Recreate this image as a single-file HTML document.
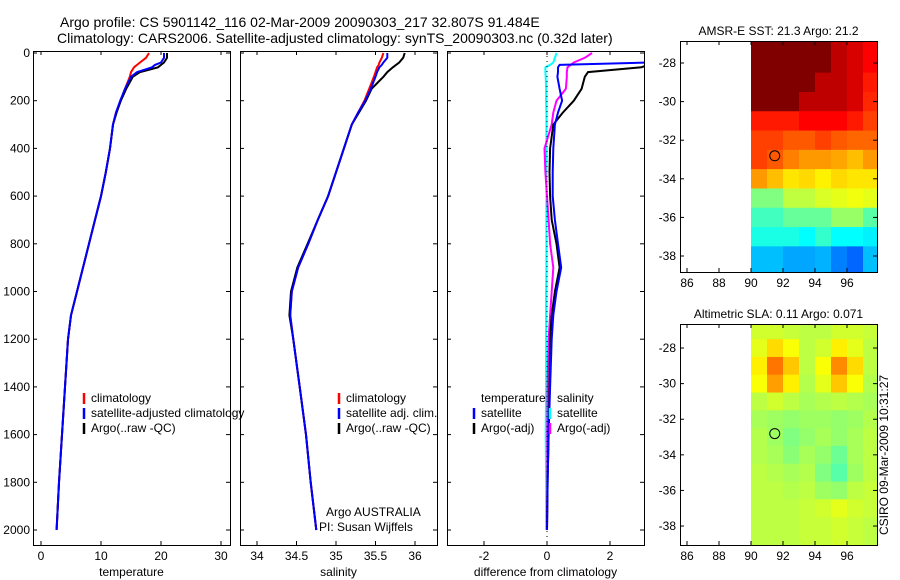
<!DOCTYPE html>
<html><head><meta charset="utf-8">
<style>
html,body{margin:0;padding:0;background:#fff;}
svg{display:block;font-family:"Liberation Sans",sans-serif;}
text{fill:#000;}
</style></head>
<body>
<svg id="fig" width="900" height="580" viewBox="0 0 900 580">
<text x="60" y="27" text-anchor="start" font-size="14">Argo profile: CS 5901142_116 02-Mar-2009 20090303_217 32.807S 91.484E</text>
<text x="57" y="43" text-anchor="start" font-size="14">Climatology: CARS2006. Satellite-adjusted climatology: synTS_20090303.nc (0.32d later)</text>
<text x="888" y="455" text-anchor="middle" font-size="12" transform="rotate(-90 888 455)">CSIRO 09-Mar-2009 10:31:27</text>
</svg>
<script>
const depths=[0,20,40,50,60,80,100,150,200,250,300,400,500,600,700,800,900,1000,1100,1200,1400,1600,1800,2000];
const tempClim=[18,17.5,16.5,16,15.5,15,14.8,14,13.3,12.5,12,11.5,10.8,10,9,8,7,6,5,4.5,4,3.5,3,2.6];
const tempSat=[20.5,20.5,20,19,18.5,16,15,14,13.2,12.5,12,11.5,10.8,10,9,8,7,6,5,4.5,4,3.5,3,2.6];
const tempArgo=[21,21,20.5,20,19.5,16.5,15.3,14.2,13.3,12.6,12,11.5,10.8,10,9,8,7,6,5,4.5,4,3.5,3,2.6];
const salClim=[35.6,35.58,35.55,35.54,35.52,35.5,35.48,35.42,35.36,35.28,35.2,35.1,35.0,34.9,34.77,34.65,34.52,34.44,34.42,34.46,34.54,34.62,34.68,34.75];
const salSat=[35.65,35.65,35.6,35.58,35.55,35.52,35.5,35.44,35.37,35.28,35.2,35.1,35.0,34.9,34.77,34.65,34.52,34.44,34.42,34.46,34.54,34.62,34.68,34.75];
const salArgo=[35.87,35.85,35.8,35.76,35.72,35.65,35.6,35.45,35.38,35.29,35.2,35.1,35.0,34.9,34.77,34.64,34.51,34.43,34.41,34.46,34.54,34.62,34.68,34.75];
const diffTempSat=[3.3,3.3,3.2,0.4,0.35,0.35,0.33,0.4,0.48,0.35,0.25,0.2,0.18,0.18,0.25,0.35,0.45,0.3,0.2,0.15,0.1,0.05,0.02,0];
const diffTempArgo=[3.5,3.5,3.4,3.2,3.0,1.3,1.2,1.1,0.85,0.5,0.2,0.1,0.08,0.1,0.15,0.3,0.4,0.25,0.15,0.1,0.08,0.05,0.02,0];
const diffSalSat=[0.3,0.25,0.2,0.1,-0.05,-0.05,-0.04,-0.03,-0.03,-0.02,-0.02,-0.02,-0.02,-0.02,-0.02,-0.02,-0.02,-0.03,-0.03,-0.03,-0.03,-0.04,-0.03,-0.03];
const diffSalArgo=[1.43,1.2,0.85,0.75,0.65,0.63,0.63,0.6,0.3,0.2,0.15,-0.08,-0.05,0,0.05,0.1,0.2,0.15,0.1,0.05,0.02,0.01,0.01,0];
const tempTicks=[0,10,20,30];
const salTicks=[34,34.5,35,35.5,36];
const salTickLabels=["34","34.5","35","35.5","36"];
const diffTicks=[-2,0,2];
const depthTicks=[0,200,400,600,800,1000,1200,1400,1600,1800,2000];
const mapLons=[90,91,92,93,94,95,96,97];
const mapLats=[-27,-28,-29,-30,-31,-32,-33,-34,-35,-36,-37,-38];
const sst=[
[23.5,23.5,23.5,23.5,23.5,23,22.8,22.5],
[23.5,23.5,23.5,23.5,23.5,23,22.8,22.5],
[23.5,23.5,23.5,23.5,23,23,22.8,22.3],
[23.5,23.5,23.5,23,23,23,22.8,22.2],
[22.3,22.3,22.3,22.5,22.5,22.5,22.3,22],
[22,22,21.8,21.8,22,21.8,21.7,21.7],
[22,21.8,21.5,21.3,21.3,21.2,21,21.3],
[21.3,21,20.7,20.8,20.6,20.8,20.7,20.7],
[19.5,19.5,20,20,20.2,20.3,20.4,20.3],
[19,19,19.3,19.3,19.3,19.7,19.7,19.2],
[18.7,18.7,18.7,18.5,18.9,18.5,18.5,18.4],
[18,18,17.8,17.8,17.9,17.5,17.3,18]];
const sla=[
[0.08,0.08,0.07,0.06,0.06,0.08,0.08,0.07],
[0.10,0.16,0.12,0.06,0.08,0.14,0.10,0.06],
[0.14,0.26,0.18,0.06,0.12,0.24,0.16,0.06],
[0.12,0.22,0.14,0.05,0.10,0.18,0.12,0.05],
[0.06,0.08,0.06,0.04,0.05,0.06,0.05,0.04],
[0.04,0.03,0.02,0.03,0.03,0.02,0.03,0.05],
[0.05,0.03,0.0,0.02,0.04,0.02,0.04,0.06],
[0.05,0.04,0.01,0.04,0.02,-0.02,0.04,0.06],
[0.06,0.05,0.04,0.05,0.0,-0.04,0.03,0.06],
[0.06,0.06,0.05,0.06,0.03,0.02,0.06,0.07],
[0.06,0.06,0.06,0.07,0.08,0.10,0.08,0.07],
[0.06,0.06,0.06,0.07,0.07,0.08,0.07,0.06]];
const sstLabel="AMSR-E SST: 21.3 Argo: 21.2";
const slaLabel="Altimetric SLA: 0.11 Argo: 0.071";
const lonTicks=[86,88,90,92,94,96];
const latTicks=[-28,-30,-32,-34,-36,-38];
const floatLon=91.484, floatLat=-32.807;

const NS="http://www.w3.org/2000/svg";
const svg=document.getElementById('fig');
function el(tag,attrs,parent){const e=document.createElementNS(NS,tag);for(const k in attrs)e.setAttribute(k,attrs[k]);(parent||svg).appendChild(e);return e;}
function txt(x,y,s,size,anchor,parent){const t=el('text',{x:x,y:y,'font-size':size||12,'text-anchor':anchor||'middle'},parent);t.textContent=s;return t;}
const yD=d=>53+d*0.2385;
const panels=[
 {x0:33,x1:230,xs:v=>41+v*6,name:'temperature'},
 {x0:240,x1:437,xs:v=>257+(v-34)*79,name:'salinity'},
 {x0:447,x1:644,xs:v=>547+v*31.5,name:'difference'}];
const PT=51,PB=545;
panels.forEach((p,i)=>{
  const cp=el('clipPath',{id:'clip'+i});
  el('rect',{x:p.x0,y:PT,width:p.x1-p.x0,height:PB-PT},cp);
});
function line(pi,vals,color,w,name){
  const p=panels[pi];
  const pts=vals.map((v,k)=>p.xs(v).toFixed(1)+','+yD(depths[k]).toFixed(1)).join(' ');
  const pl=el('polyline',{points:pts,fill:'none',stroke:color,'stroke-width':w,'clip-path':'url(#clip'+pi+')'});
  
  
}
function frame(pi,ticks,labels,xlabel,showY){
  const p=panels[pi];
  const g=el('g',{});
  
  
  el('rect',{x:p.x0+0.5,y:PT+0.5,width:p.x1-p.x0,height:PB-PT,fill:'none',stroke:'#000','stroke-width':1},g);
  ticks.forEach((t,k)=>{const x=p.xs(t);
    el('line',{x1:x,x2:x,y1:PB,y2:PB-4,stroke:'#000'},g);
    el('line',{x1:x,x2:x,y1:PT,y2:PT+4,stroke:'#000'},g);
    txt(x,PB+15,labels[k],12,'middle',g);});
  depthTicks.forEach(d=>{const y=yD(d);
    el('line',{x1:p.x0,x2:p.x0+4,y1:y,y2:y,stroke:'#000'},g);
    el('line',{x1:p.x1-4,x2:p.x1,y1:y,y2:y,stroke:'#000'},g);
    if(showY) txt(p.x0-3,y+4,String(d),12,'end',g);});
  const xl=txt((p.x0+p.x1)/2,PB+31,xlabel,12,'middle',g);
  
  
}
frame(0,tempTicks,tempTicks.map(String),'temperature',true);
frame(1,salTicks,salTickLabels,'salinity',false);
frame(2,diffTicks,diffTicks.map(String),'difference from climatology',false);
line(0,tempClim,'#f00',2,'temp-climatology-line');
line(0,tempArgo,'#000',2,'temp-argo-line');
line(0,tempSat,'#00f',2,'temp-satellite-line');
line(1,salClim,'#f00',2,'sal-climatology-line');
line(1,salArgo,'#000',2,'sal-argo-line');
line(1,salSat,'#00f',2,'sal-satellite-line');
line(2,diffSalSat,'#0ff',2,'diff-sal-satellite-line');
line(2,diffSalArgo,'#f0f',2,'diff-sal-argo-line');
line(2,diffTempArgo,'#000',2,'diff-temp-argo-line');
line(2,diffTempSat,'#00f',2,'diff-temp-satellite-line');
el('line',{x1:547,x2:547,y1:PT,y2:PB,stroke:'#000','stroke-dasharray':'1,4'});
function legend(x,y,items,name){
  const g=el('g',{});
  
  
  items.forEach((it,k)=>{const yy=y+k*15;
    if(it[1]) el('line',{x1:x,x2:x,y1:yy-9,y2:yy+2,stroke:it[1],'stroke-width':2.5},g);
    txt(x+7,yy,it[0],12,'start',g);});
}
legend(84,402,[['climatology','#f00'],['satellite-adjusted climatology','#00f'],['Argo(..raw -QC)','#000']],'temperature-legend');
legend(339,402,[['climatology','#f00'],['satellite adj. clim.','#00f'],['Argo(..raw -QC)','#000']],'salinity-legend');
legend(474,402,[['temperature',null],['satellite','#00f'],['Argo(-adj)','#000']],'diff-temperature-legend');
legend(550,402,[['salinity',null],['satellite','#0ff'],['Argo(-adj)','#f0f']],'diff-salinity-legend');
txt(326,516,'Argo AUSTRALIA',12,'start');
txt(319,531,'PI: Susan Wijffels',12,'start');
function jet(t){t=Math.max(0,Math.min(1,t));
  const f=c=>Math.round(255*Math.max(0,Math.min(1,1.5-Math.abs(4*t-c))));
  return 'rgb('+f(3)+','+f(2)+','+f(1)+')';}
function map(opts){
  const {top,bottom,latTop,pxPerLat,data,vmin,vmax,label,name}=opts;
  const x0=680,x1=877;
  const xs=lon=>751+(lon-90)*16;
  const ys=lat=>top+(latTop-lat)*pxPerLat;
  const g=el('g',{});
  
  
  const cid='clip'+name;
  const cp=el('clipPath',{id:cid});el('rect',{x:x0,y:top,width:x1-x0,height:bottom-top},cp);
  const cg=el('g',{'clip-path':'url(#'+cid+')'},g);
  data.forEach((row,r)=>row.forEach((v,c)=>{
    const lat=mapLats[r], lon=mapLons[c];
    const yt=r===0?top:ys(lat+0.5), yb=r===data.length-1?bottom:ys(lat-0.5);
    const xl=xs(lon), xr=c===row.length-1?x1:xs(lon+1);
    const rc=el('rect',{x:xl,y:yt,width:xr-xl+0.5,height:yb-yt+0.5,fill:jet((v-vmin)/(vmax-vmin))},cg);
    
    
  }));
  el('rect',{x:x0+0.5,y:top+0.5,width:x1-x0,height:bottom-top,fill:'none',stroke:'#000'},g);
  lonTicks.forEach(l=>{const x=xs(l);
    el('line',{x1:x,x2:x,y1:bottom,y2:bottom-4,stroke:'#000'},g);
    el('line',{x1:x,x2:x,y1:top,y2:top+4,stroke:'#000'},g);
    txt(x,bottom+15,String(l),12,'middle',g);});
  latTicks.forEach(l=>{const y=ys(l);
    el('line',{x1:x0,x2:x0+4,y1:y,y2:y,stroke:'#000'},g);
    el('line',{x1:x1-4,x2:x1,y1:y,y2:y,stroke:'#000'},g);
    txt(x0-4,y+4,String(l),12,'end',g);});
  el('circle',{cx:xs(floatLon),cy:ys(floatLat),r:5,fill:'none',stroke:'#000','stroke-width':1},g);
  txt((x0+x1)/2,top-6,label,12,'middle',g);
}
map({top:41,bottom:272,latTop:-26.86,pxPerLat:19.3,data:sst,vmin:15.5,vmax:23.5,label:sstLabel,name:'sst-map'});
map({top:324,bottom:545,latTop:-26.65,pxPerLat:17.8,data:sla,vmin:-0.5,vmax:0.5,label:slaLabel,name:'sla-map'});
</script>
</body></html>
